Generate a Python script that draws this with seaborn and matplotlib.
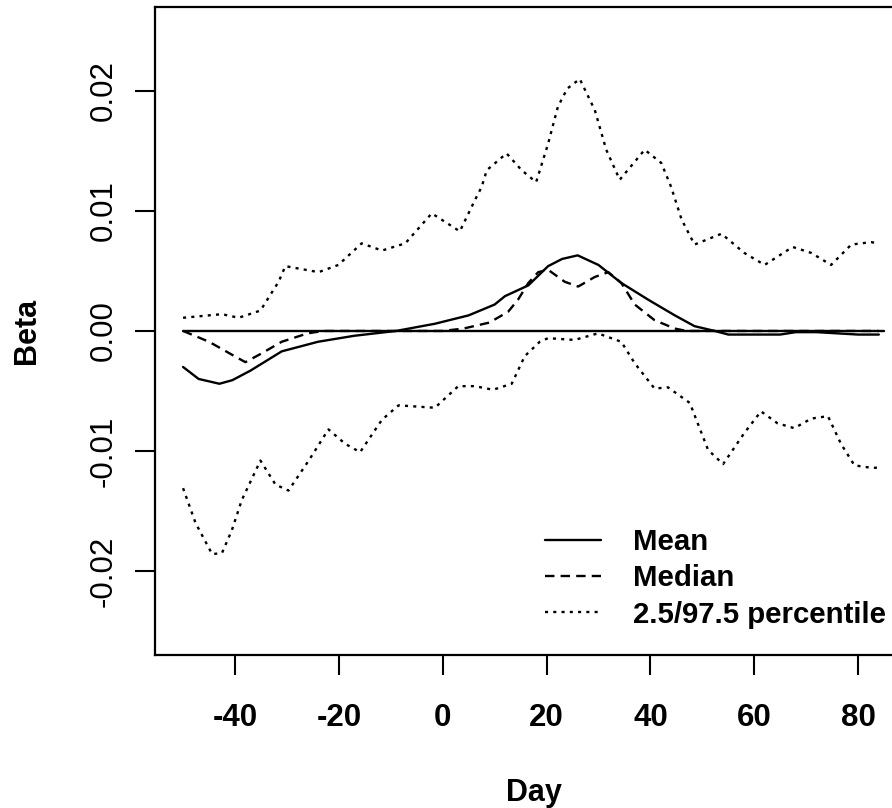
# Posterior summary of beta over days (mean, median, 2.5/97.5 percentile)
import matplotlib
matplotlib.use("Agg")
import matplotlib.pyplot as plt
import seaborn as sns

# values
mean_day = [-50, -47, -43, -40.5, -37, -31, -24, -17, -9, -1.5, 5, 10, 12, 16.5, 20.3, 23,
            26, 30, 34.4, 39.6, 44.7, 48.5, 52.4, 55, 60, 65, 68, 72, 76, 80, 84]
mean_val = [-0.0030, -0.0040, -0.0044, -0.0041, -0.0033, -0.0017, -0.0009, -0.0004, 0.0000,
            0.0006, 0.0013, 0.0022, 0.0029, 0.0038, 0.0054, 0.0060, 0.0063, 0.0055, 0.0040,
            0.0026, 0.0013, 0.0004, 0.0000, -0.0003, -0.0003, -0.0003, -0.0001, -0.0001,
            -0.0002, -0.0003, -0.0003]

med_day = [-50, -45, -40.5, -38, -35, -31, -26, -23, 0, 4, 9, 12.6, 14.5, 16.5, 18.4, 20.3,
           23.5, 26.1, 29.3, 31.9, 34.4, 37, 40.8, 44.7, 47, 60, 70, 84]
med_val = [0, -0.0009, -0.0020, -0.0026, -0.0019, -0.0009, -0.0002, 0, 0, 0.0002, 0.0007,
           0.0016, 0.0026, 0.0040, 0.0049, 0.0051, 0.0041, 0.0037, 0.0045, 0.0049, 0.0040,
           0.0022, 0.0009, 0.0002, 0, 0, 0, 0]

up_day = [-50, -42.5, -39.3, -35.1, -33.5, -31.6, -30.3, -23.9, -20.1, -15.6, -11.7, -7.2,
          -2.1, 3.3, 6.2, 7.5, 8.5, 12.3, 15.2, 18.0, 20.3, 22.2, 24.0, 26.4, 29.3, 31.5,
          34.1, 38.9, 42.1, 44.0, 46.0, 48.5, 53.7, 58.1, 62.0, 67.4, 71.0, 74.8, 78.7,
          82.5, 84]
up_val = [0.0011, 0.0014, 0.0011, 0.0017, 0.0028, 0.0041, 0.0054, 0.0049, 0.0055, 0.0073,
          0.0067, 0.0073, 0.0098, 0.0083, 0.0109, 0.0120, 0.0134, 0.0148, 0.0134, 0.0124,
          0.0156, 0.0187, 0.0202, 0.0210, 0.0184, 0.0151, 0.0126, 0.0151, 0.0140, 0.0120,
          0.0093, 0.0072, 0.0081, 0.0065, 0.0055, 0.0070, 0.0065, 0.0055, 0.0072, 0.0074,
          0.0073]

lo_day = [-50, -47.6, -44.4, -42.5, -40.6, -38.7, -35.1, -32.2, -29.7, -25.8, -22.0, -18.8,
          -15.9, -11.7, -8.5, -1.5, 3.0, 6.2, 9.7, 13.3, 15.8, 18.7, 20.3, 25.4, 29.9, 34.4,
          37.0, 40.8, 43.4, 47.6, 51.1, 54.0, 58.1, 61.3, 64.5, 67.7, 71.0, 74.2, 76.7,
          79.3, 82.5, 84]
lo_val = [-0.0131, -0.0160, -0.0186, -0.0185, -0.0166, -0.0141, -0.0108, -0.0128, -0.0133,
          -0.0108, -0.0082, -0.0094, -0.0101, -0.0074, -0.0062, -0.0064, -0.0046, -0.0046,
          -0.0049, -0.0044, -0.0021, -0.0009, -0.0006, -0.00075, -0.0002, -0.0009, -0.0027,
          -0.0048, -0.0047, -0.0060, -0.0099, -0.0111, -0.0085, -0.0067, -0.0077, -0.0081,
          -0.0073, -0.0071, -0.0094, -0.0112, -0.0114, -0.0114]

zero_day = [-50, 85]
zero_val = [0, 0]

x_ticks = [-40, -20, 0, 20, 40, 60, 80]
x_labels = ["-40", "-20", "0", "20", "40", "60", "80"]
y_ticks = [-0.02, -0.01, 0.0, 0.01, 0.02]
y_labels = ["-0.02", "-0.01", "0.00", "0.01", "0.02"]

sns.set_style("ticks")
plt.rcParams["font.family"] = ["Liberation Sans", "DejaVu Sans"]
plt.rcParams["text.color"] = "black"
plt.rcParams["axes.labelcolor"] = "black"

fig = plt.figure(figsize=(8.92, 8.08), dpi=100)
ax = fig.add_axes([0.1738, 0.1894, 0.8487, 0.802])

lw = 1.7
dotted = (0, (1.3, 2.2))
dashed = (0, (4.0, 2.6))
sns.lineplot(x=zero_day, y=zero_val, ax=ax, color="black", linewidth=lw)
sns.lineplot(x=mean_day, y=mean_val, ax=ax, color="black", linewidth=lw, label="Mean")
sns.lineplot(x=med_day, y=med_val, ax=ax, color="black", linewidth=lw,
             linestyle=dashed, label="Median")
sns.lineplot(x=up_day, y=up_val, ax=ax, color="black", linewidth=lw,
             linestyle=dotted, label="2.5/97.5 percentile")
sns.lineplot(x=lo_day, y=lo_val, ax=ax, color="black", linewidth=lw, linestyle=dotted)

ax.set_xlim(-55.4, 90.4)
ax.set_ylim(-0.027, 0.027)
ax.set_xticks(x_ticks, x_labels)
ax.set_yticks(y_ticks, y_labels)
for sp in ax.spines.values():
    sp.set_visible(True)
    sp.set_color("black")
    sp.set_linewidth(1.6)

ax.tick_params(axis="both", direction="out", length=14.4, width=1.5, colors="black")
ax.tick_params(axis="x", pad=20, labelsize=22.5)
ax.tick_params(axis="y", pad=12, labelsize=22.5)
for t in ax.get_xticklabels():
    t.set_fontweight("bold")
for t in ax.get_yticklabels():
    t.set_rotation(90)
    t.set_va("center")

ax.set_xlabel("Day", fontsize=22, fontweight="bold")
ax.set_ylabel("Beta", fontsize=22, fontweight="bold")
ax.xaxis.set_label_coords(0.5, -0.19)
ax.yaxis.set_label_coords(-0.149, 0.5)

handles, labels = ax.get_legend_handles_labels()
ax.legend(handles, labels, loc="upper left", bbox_to_anchor=(0.611, 0.3465),
          bbox_transform=fig.transFigure, frameon=False, borderpad=0, borderaxespad=0,
          handlelength=1.9, handletextpad=1.08, labelspacing=0.28,
          prop={"size": 21.2, "weight": "bold"})

fig.savefig("out.png", dpi=100)
